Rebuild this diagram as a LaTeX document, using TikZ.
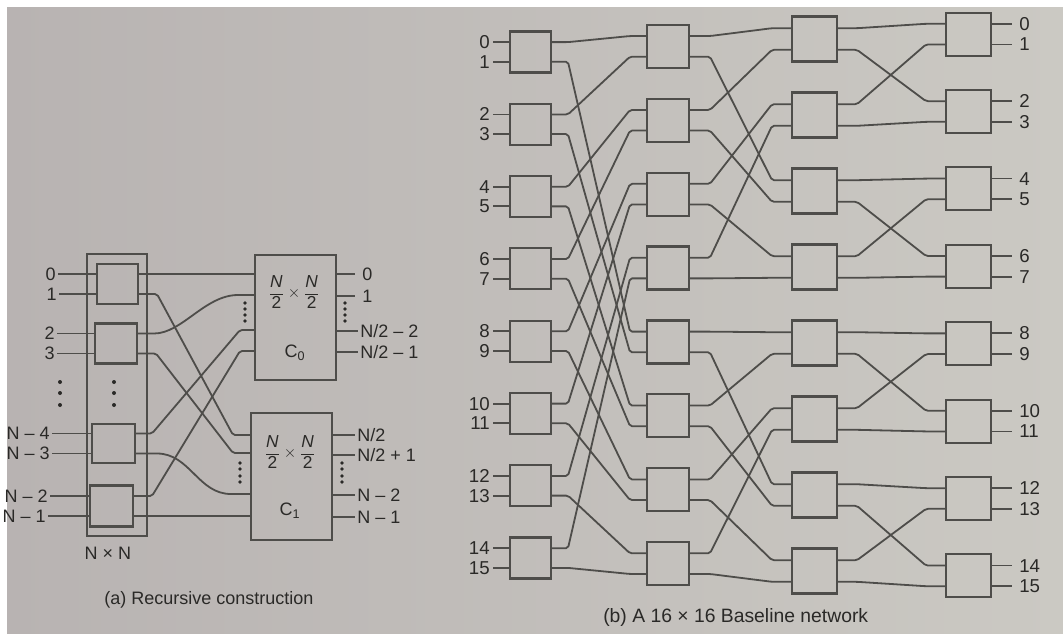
\documentclass[tikz,border=0pt]{standalone}
\usepackage{fontspec}
\setmainfont{Liberation Sans}
\usetikzlibrary{calc}
\definecolor{ink}{HTML}{4E4D4A}
\definecolor{txt}{HTML}{2A2927}
\definecolor{paperL}{HTML}{B8B3B2}
\definecolor{paperR}{HTML}{CBC9C3}
\tikzset{
  wire/.style={draw=ink, line width=1.35pt, line join=round, rounded corners=1.5pt},
  swbox/.style={draw=ink, line width=1.6pt, inner sep=0pt, outer sep=0pt},
  lbl/.style={text=txt, font=\fontsize{13.5}{16}\selectfont, inner sep=0pt},
  lblb/.style={text=txt, font=\fontsize{14}{16}\selectfont, inner sep=0pt},
  fracl/.style={text=txt, font=\fontsize{13}{15}\selectfont, inner sep=0pt},
  dotm/.style={fill=txt, draw=none},
  bsize/.style 2 args={minimum width={#1*0.75pt}, minimum height={#2*0.75pt}},
}
\begin{document}
\begin{tikzpicture}[x=0.75pt,y=-0.75pt]
\useasboundingbox (0,0) rectangle (1063,633);
\fill[white] (0,0) rectangle (1063,633);
\shade[left color=paperL, right color=paperR] (7,7) rectangle (1063,633);

% ================= (b) Baseline network =================
\foreach \s/\xl/\w/\p/\hh in {1/510/41/72.3/41, 2/647/42/73.9/43, 3/792/45/76/45, 4/946/45/77.4/43}{
  \foreach \i in {0,...,7}{
    \pgfmathsetmacro\cy{305+(\i-3.5)*\p}
    \pgfmathsetmacro\dd{0.24*\hh}
    \node[swbox, bsize={\w}{\hh}] (s\s-\i) at (\xl+\w/2,\cy) {};
    \coordinate (s\s-\i-i0) at (\xl,\cy-\dd);
    \coordinate (s\s-\i-i1) at (\xl,\cy+\dd);
    \coordinate (s\s-\i-o0) at (\xl+\w,\cy-\dd);
    \coordinate (s\s-\i-o1) at (\xl+\w,\cy+\dd);
  }
}

% input and output labels
\foreach \i in {0,...,7}{
  \pgfmathtruncatemacro\na{2*\i}
  \pgfmathtruncatemacro\nb{2*\i+1}
  \node[lblb, anchor=east] (in\na) at ($(s1-\i-i0)+(-20,0)$) {\na};
  \node[lblb, anchor=east] (in\nb) at ($(s1-\i-i1)+(-20,0)$) {\nb};
  \draw[wire] (in\na.east) ++(3,0) -- (s1-\i-i0);
  \draw[wire] (in\nb.east) ++(3,0) -- (s1-\i-i1);
  \node[lblb, anchor=west] (out\na) at ($(s4-\i-o0)+(28,0)$) {\na};
  \node[lblb, anchor=west] (out\nb) at ($(s4-\i-o1)+(28,0)$) {\nb};
  \draw[wire] (s4-\i-o0) -- ($(out\na.west)+(-7,0)$);
  \draw[wire] (s4-\i-o1) -- ($(out\nb.west)+(-7,0)$);
}

% stage 1 -> stage 2
\foreach \i in {0,...,7}{
  \pgfmathtruncatemacro\ta{int(\i/2)}
  \pgfmathtruncatemacro\tb{int(\i/2)+4}
  \pgfmathtruncatemacro\k{mod(\i,2)}
  \draw[wire] (s1-\i-o0) -- ++(17,0) -- ($(s2-\ta-i\k)+(-17,0)$) -- (s2-\ta-i\k);
  \draw[wire] (s1-\i-o1) -- ++(17,0) -- ($(s2-\tb-i\k)+(-17,0)$) -- (s2-\tb-i\k);
}

% stage 2 -> stage 3
\foreach \i in {0,...,7}{
  \pgfmathtruncatemacro\hb{4*int(\i/4)}
  \pgfmathtruncatemacro\kk{mod(\i,4)}
  \pgfmathtruncatemacro\ta{\hb+int(\kk/2)}
  \pgfmathtruncatemacro\tb{\hb+2+int(\kk/2)}
  \pgfmathtruncatemacro\k{mod(\kk,2)}
  \draw[wire] (s2-\i-o0) -- ++(21,0) -- ($(s3-\ta-i\k)+(-20,0)$) -- (s3-\ta-i\k);
  \draw[wire] (s2-\i-o1) -- ++(21,0) -- ($(s3-\tb-i\k)+(-20,0)$) -- (s3-\tb-i\k);
}

% stage 3 -> stage 4
\foreach \i in {0,...,7}{
  \pgfmathtruncatemacro\ta{2*int(\i/2)}
  \pgfmathtruncatemacro\tb{2*int(\i/2)+1}
  \pgfmathtruncatemacro\k{mod(\i,2)}
  \draw[wire] (s3-\i-o0) -- ++(20,0) -- ($(s4-\ta-i\k)+(-20,0)$) -- (s4-\ta-i\k);
  \draw[wire] (s3-\i-o1) -- ++(20,0) -- ($(s4-\tb-i\k)+(-20,0)$) -- (s4-\tb-i\k);
}

\node[lbl, font=\fontsize{14.5}{16}\selectfont, anchor=west] (capb) at (603,617) {(b) A 16 × 16 Baseline network};

% ================= (a) Recursive construction =================
\node[swbox, bsize={60}{282}] (nn) at (117,395) {};
\node[swbox, bsize={41}{40}] (a0) at (117.5,284) {};
\node[swbox, bsize={42}{40}] (a1) at (116,343.5) {};
\node[swbox, bsize={43}{39}] (a2) at (113.5,443.5) {};
\node[swbox, bsize={43}{41}] (a3) at (111.5,506) {};
\foreach \n in {a0,a1,a2,a3}{
  \coordinate (\n i0) at ($(\n.west)+(0,-10)$);
  \coordinate (\n i1) at ($(\n.west)+(0,10)$);
  \coordinate (\n o0) at ($(\n.east)+(0,-10)$);
  \coordinate (\n o1) at ($(\n.east)+(0,10)$);
}
\node[swbox, bsize={81}{125}] (c0) at (295.5,317.5) {};
\node[swbox, bsize={81}{127}] (c1) at (291.5,476.5) {};
\coordinate (c0i0) at (255,274);
\coordinate (c0i1) at (255,295);
\coordinate (c0i2) at (255,330);
\coordinate (c0i3) at (255,351);
\coordinate (c0o0) at (336,274);
\coordinate (c0o1) at (336,296);
\coordinate (c0o2) at (336,331);
\coordinate (c0o3) at (336,352);
\coordinate (c1i0) at (251,435);
\coordinate (c1i1) at (251,453);
\coordinate (c1i2) at (251,494);
\coordinate (c1i3) at (251,516);
\coordinate (c1o0) at (332,435);
\coordinate (c1o1) at (332,455);
\coordinate (c1o2) at (332,495);
\coordinate (c1o3) at (332,517);

% input labels (a)
\node[lbl, anchor=east] (x0) at (56,274) {0};
\node[lbl, anchor=east] (x1) at (57,294) {1};
\node[lbl, anchor=east] (x2) at (55,333.5) {2};
\node[lbl, anchor=east] (x3) at (55,353.5) {3};
\node[lbl, anchor=east] (x4) at (50,433.5) {N – 4};
\node[lbl, anchor=east] (x5) at (50,453.5) {N – 3};
\node[lbl, anchor=east] (x6) at (48,496) {N – 2};
\node[lbl, anchor=east] (x7) at (46,516) {N – 1};
\draw[wire] (x0.east) ++(2,0) -- (a0i0);
\draw[wire] (x1.east) ++(2,0) -- (a0i1);
\draw[wire] (x2.east) ++(2,0) -- (a1i0);
\draw[wire] (x3.east) ++(2,0) -- (a1i1);
\draw[wire] (x4.east) ++(2,0) -- (a2i0);
\draw[wire] (x5.east) ++(2,0) -- (a2i1);
\draw[wire] (x6.east) ++(2,0) -- (a3i0);
\draw[wire] (x7.east) ++(2,0) -- (a3i1);

% shuffle wires (a)
\draw[wire] (a0o0) -- (c0i0);
\draw[wire] (a0o1) -- ++(19,0) -- ($(c1i0)+(-18,0)$) -- (c1i0);
\draw[wire] (a1o0) -- ++(15,0) .. controls +(30,0) and +(-35,0) .. ($(c0i1)+(-15,0)$) -- (c0i1);
\draw[wire] (a1o1) -- ++(19,0) -- ($(c1i1)+(-18,0)$) -- (c1i1);
\draw[wire] (a2o0) -- ++(17,0) -- ($(c0i2)+(-15,0)$) -- (c0i2);
\draw[wire] (a2o1) -- ++(20,0) .. controls +(35,0) and +(-35,0) .. ($(c1i2)+(-18,0)$) -- (c1i2);
\draw[wire] (a3o0) -- ++(19,0) -- ($(c0i3)+(-15,0)$) -- (c0i3);
\draw[wire] (a3o1) -- (c1i3);

% output labels (a)
\node[lbl, anchor=west] (y0) at (362,274) {0};
\node[lbl, anchor=west] (y1) at (362,296) {1};
\node[lbl, anchor=west] (y2) at (360,331) {N/2 – 2};
\node[lbl, anchor=west] (y3) at (360,352) {N/2 – 1};
\node[lbl, anchor=west] (y4) at (357,435) {N/2};
\node[lbl, anchor=west] (y5) at (357,455) {N/2 + 1};
\node[lbl, anchor=west] (y6) at (357,495) {N – 2};
\node[lbl, anchor=west] (y7) at (357,517) {N – 1};
\draw[wire] (c0o0) -- ($(y0.west)+(-7,0)$);
\draw[wire] (c0o1) -- ($(y1.west)+(-7,0)$);
\draw[wire] (c0o2) -- ($(y2.west)+(-2,0)$);
\draw[wire] (c0o3) -- ($(y3.west)+(-2,0)$);
\draw[wire] (c1o0) -- ($(y4.west)+(-2,0)$);
\draw[wire] (c1o1) -- ($(y5.west)+(-2,0)$);
\draw[wire] (c1o2) -- ($(y6.west)+(-2,0)$);
\draw[wire] (c1o3) -- ($(y7.west)+(-2,0)$);

% dots
\foreach \y in {382,393,405}{
  \fill[dotm] (60,\y) circle (2.0);
  \fill[dotm] (114,\y) circle (2.0);
}
\foreach \y in {303,309,315,321}{
  \fill[dotm] (245,\y) circle (1.8);
  \fill[dotm] (345,\y) circle (1.8);
}
\foreach \y in {463,469,476,482}{
  \fill[dotm] (240,\y) circle (1.8);
  \fill[dotm] (342,\y) circle (1.8);
}

% box texts
\node[fracl] (f0) at (294,292)
  {$\displaystyle\frac{\textit{N}}{\mbox{2}}\times\frac{\textit{N}}{\mbox{2}}$};
\node[fracl] (f1) at (290,452)
  {$\displaystyle\frac{\textit{N}}{\mbox{2}}\times\frac{\textit{N}}{\mbox{2}}$};
\node[lbl] (l0) at (295,353) {C\textsubscript{0}};
\node[lbl] (l1) at (290,511) {C\textsubscript{1}};

\node[lbl] (nxn) at (108,553) {N × N};
\node[lbl] (capa) at (209,600) {(a) Recursive construction};
\end{tikzpicture}
\end{document}
